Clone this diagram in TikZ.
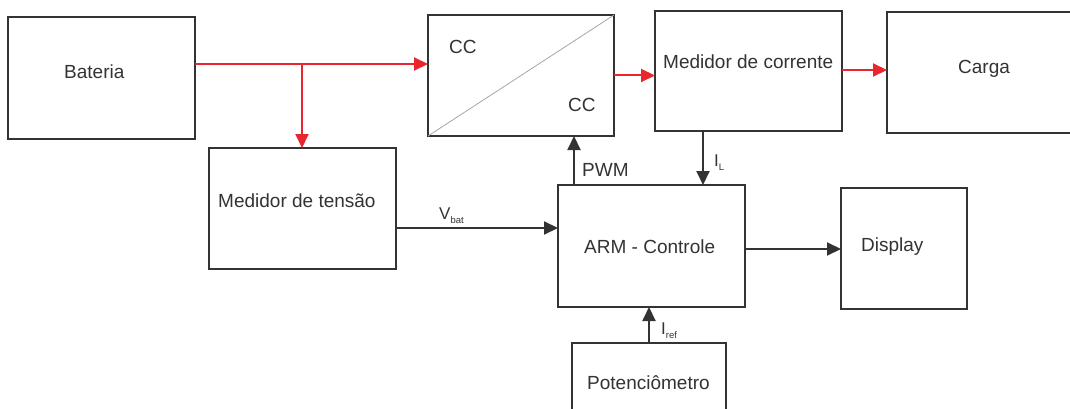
\documentclass[tikz,border=0pt]{standalone}
\usepackage{fontspec}
\setmainfont{Liberation Sans}
\usetikzlibrary{arrows.meta}
\definecolor{ink}{HTML}{333333}
\definecolor{flow}{RGB}{233,38,45}
\newcommand{\lowsub}[1]{\raisebox{-4pt}{\fontsize{9.5}{10}\selectfont #1}}
\tikzset{
  box/.style={draw=ink, line width=2.2pt, inner sep=0pt, outer sep=0pt},
  lbl/.style={anchor=base west, inner sep=0pt, text=ink, font=\fontsize{19}{22}\selectfont},
  redarrow/.style={draw=flow, line width=2pt, -{Triangle[length=14pt,width=13pt]}},
  blkarrow/.style={draw=ink, line width=2pt, -{Triangle[length=14pt,width=13pt]}},
}
\begin{document}
\begin{tikzpicture}[x=1pt,y=-1pt]
\clip (0,0) rectangle (1070,409);
\fill[white] (0,0) rectangle (1070,409);
% boxes
\node[box, minimum width=187pt, minimum height=122pt] (bat) at (101.5,78) {};
\node[box, minimum width=186pt, minimum height=121pt] (cc) at (521,75.5) {};
\node[box, minimum width=187pt, minimum height=120pt] (mc) at (748.5,71) {};
\node[box, minimum width=200pt, minimum height=121pt] (carga) at (987,72.5) {};
\node[box, minimum width=187pt, minimum height=121pt] (mt) at (302.5,208.5) {};
\node[box, minimum width=187pt, minimum height=122pt] (arm) at (651.5,246) {};
\node[box, minimum width=126pt, minimum height=121pt] (disp) at (904,248.5) {};
\node[box, minimum width=154pt, minimum height=122pt] (pot) at (649,404) {};
% diagonal of converter
\draw[gray!70, line width=0.8pt] (cc.south west) -- (cc.north east);
% labels
\node[lbl] (tbat) at (64,79) {Bateria};
\node[lbl] (tcc1) at (449,54) {CC};
\node[lbl] (tcc2) at (568,112) {CC};
\node[lbl] (tmc) at (663,69) {Medidor de corrente};
\node[lbl] (tcarga) at (958,74) {Carga};
\node[lbl] (tmt) at (218,207) {Medidor de tensão};
\node[lbl] (tarm) at (584,253) {ARM - Controle};
\node[lbl] (tdisp) at (861,251) {Display};
\node[lbl] (tpot) at (587,389) {Potenciômetro};
\node[lbl] (tpwm) at (582,176) {PWM};
\node[lbl, font=\fontsize{17}{20}\selectfont] (til) at (714,166) {I\lowsub{L}};
\node[lbl, font=\fontsize{17}{20}\selectfont] (tvbat) at (439,219) {V\lowsub{bat}};
\node[lbl, font=\fontsize{17}{20}\selectfont] (tiref) at (661,334) {I\lowsub{ref}};
% junction points
\coordinate (j) at (302,64);
\coordinate (jv) at (396,228);
\coordinate (jpwm) at (574,0);
\coordinate (jil) at (703,0);
\coordinate (jiref) at (649,0);
\coordinate (jd) at (0,249);
\coordinate (jc) at (0,70);
% power flow
\draw[draw=flow, line width=2pt] (bat.east |- j) -- (j);
\draw[redarrow] (j) -- (cc.west |- j);
\draw[redarrow] (j) -- (mt.north -| j);
\draw[redarrow] (cc.east) -- (cc.east -| mc.west);
\draw[redarrow] (mc.east |- jc) -- (carga.west |- jc);
% signals
\draw[blkarrow] (mt.east |- jv) -- (arm.west |- jv);
\draw[blkarrow] (arm.north -| jpwm) -- (cc.south -| jpwm);
\draw[blkarrow] (mc.south -| jil) -- (arm.north -| jil);
\draw[blkarrow] (arm.east |- jd) -- (disp.west |- jd);
\draw[blkarrow] (pot.north -| jiref) -- (arm.south -| jiref);
\end{tikzpicture}
\end{document}
